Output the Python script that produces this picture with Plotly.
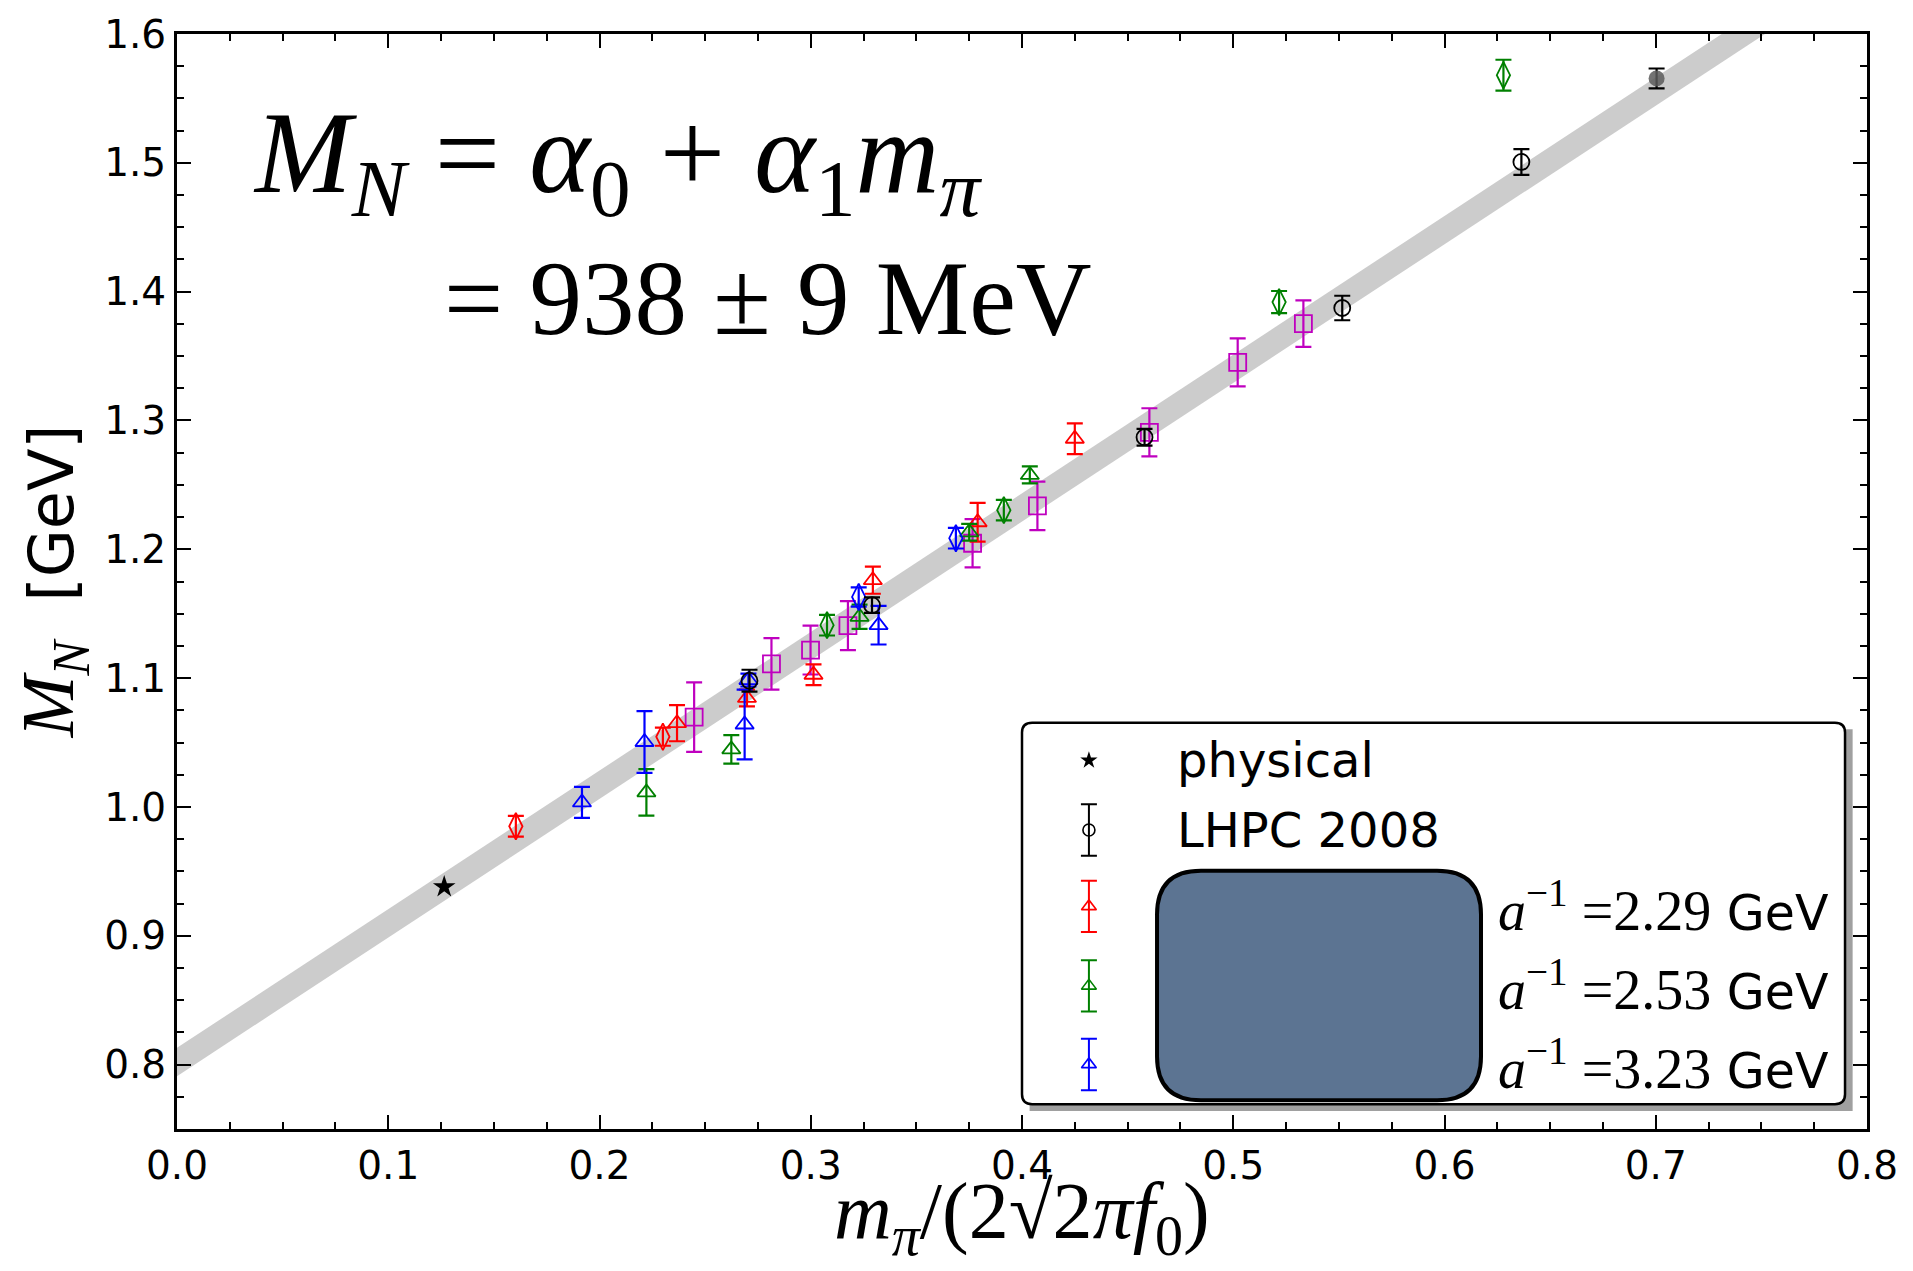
import plotly.graph_objects as go

# ---------------- data ----------------
phys_x = [0.1265]
phys_y = [0.938]

lhpc_x = [0.271, 0.329, 0.458, 0.5516, 0.6364, 0.7004]
lhpc_y = [1.098, 1.1566, 1.287, 1.3873, 1.5007, 1.5655]
lhpc_err = [0.0085, 0.006, 0.0065, 0.0095, 0.010, 0.0077]

red_tri_x = [0.2367, 0.2698, 0.3013, 0.3294, 0.379, 0.425]
red_tri_y = [1.065, 1.0846, 1.1026, 1.176, 1.221, 1.2858]
red_tri_err = [0.014, 0.0065, 0.008, 0.0105, 0.015, 0.012]

red_dia_x = [0.1604, 0.230]
red_dia_y = [0.985, 1.0545]
red_dia_err = [0.008, 0.007]

green_tri_x = [0.2222, 0.2624, 0.3231, 0.375, 0.4037]
green_tri_y = [1.0113, 1.0447, 1.1476, 1.2132, 1.2577]
green_tri_err = [0.018, 0.011, 0.0094, 0.0065, 0.0066]

green_dia_x = [0.3077, 0.3914, 0.5217, 0.6279]
green_dia_y = [1.1411, 1.2304, 1.3919, 1.568]
green_dia_err = [0.008, 0.008, 0.0086, 0.012]

blue_tri_x = [0.1917, 0.2213, 0.2687, 0.2705, 0.3321]
blue_tri_y = [1.0035, 1.0504, 1.064, 1.0985, 1.1411]
blue_tri_err = [0.012, 0.024, 0.027, 0.005, 0.015]

blue_dia_x = [0.3227, 0.3687]
blue_dia_y = [1.163, 1.2086]
blue_dia_err = [0.0075, 0.008]

mag_x = [0.2448, 0.2814, 0.2999, 0.3176, 0.3766, 0.4073, 0.4603, 0.5021, 0.5332]
mag_y = [1.0697, 1.111, 1.1218, 1.1407, 1.2047, 1.2337, 1.2908, 1.3451, 1.3752]
mag_err = [0.027, 0.020, 0.019, 0.019, 0.0187, 0.0188, 0.0187, 0.0187, 0.018]

# fit band  M_N = a0 + a1 * x
band_x = [0.0, 0.8]
band_lo = [0.791, 1.652]
band_hi = [0.813, 1.674]

# tick values
x_ticks = [0.0, 0.1, 0.2, 0.3, 0.4, 0.5, 0.6, 0.7, 0.8]
y_ticks = [0.8, 0.9, 1.0, 1.1, 1.2, 1.3, 1.4, 1.5, 1.6]

legend_labels = ["physical", "LHPC 2008", "2.29", "2.53", "3.23"]

# ---------------- styles ----------------
RED = "#ff0000"
GREEN = "#008000"
BLUE = "#0000ff"
MAG = "#bf00bf"
SERIF = "Liberation Serif"
SANS = "DejaVu Sans"

fig = go.Figure()

fig.add_trace(go.Scatter(x=band_x, y=band_lo, mode="lines",
                         line=dict(width=0, color="#cccccc"),
                         hoverinfo="skip", showlegend=False))
fig.add_trace(go.Scatter(x=band_x, y=band_hi, mode="lines",
                         line=dict(width=0, color="#cccccc"),
                         fill="tonexty", fillcolor="#cccccc",
                         hoverinfo="skip", showlegend=False))


def eb(x, y, err, color, symbol, size, xa="x", ya="y"):
    return go.Scatter(
        x=x, y=y, mode="markers", xaxis=xa, yaxis=ya,
        marker=dict(symbol=symbol, size=size, color=color,
                    line=dict(width=1.8, color=color)),
        error_y=dict(type="data", array=err, visible=True, color=color,
                     thickness=2.2, width=8),
        showlegend=False, cliponaxis=False)


fig.add_trace(eb(mag_x, mag_y, mag_err, MAG, "square-open", 17))
fig.add_trace(eb(red_dia_x, red_dia_y, red_dia_err, RED, "diamond-tall-open", 19))
fig.add_trace(eb(red_tri_x, red_tri_y, red_tri_err, RED, "triangle-up-open", 16))
fig.add_trace(eb(green_tri_x, green_tri_y, green_tri_err, GREEN, "triangle-up-open", 16))
fig.add_trace(eb(green_dia_x, green_dia_y, green_dia_err, GREEN, "diamond-tall-open", 19))
fig.add_trace(eb(blue_tri_x, blue_tri_y, blue_tri_err, BLUE, "triangle-up-open", 16))
fig.add_trace(eb(blue_dia_x, blue_dia_y, blue_dia_err, BLUE, "diamond-tall-open", 19))

n_l = len(lhpc_x)
fig.add_trace(go.Scatter(
    x=lhpc_x, y=lhpc_y, mode="markers",
    marker=dict(symbol=["circle-open"] * (n_l - 1) + ["circle"], size=16,
                color=["black"] * (n_l - 1) + ["rgba(90,90,90,0.85)"],
                line=dict(width=[1.8] * (n_l - 1) + [0], color="black")),
    error_y=dict(type="data", array=lhpc_err, visible=True, color="black",
                 thickness=2.2, width=8),
    showlegend=False))

fig.add_trace(go.Scatter(x=phys_x, y=phys_y, mode="markers",
                         marker=dict(symbol="star", size=17, color="black"),
                         showlegend=False))

# ---------------- custom legend (overlay axes in plot-fraction units) ----------------
lx = 0.5396
ly = [0.3367, 0.2731, 0.2033, 0.1307, 0.059]
lerr = 0.0235
fig.add_trace(go.Scatter(x=[lx], y=[ly[0]], mode="markers", xaxis="x2", yaxis="y2",
                         marker=dict(symbol="star", size=13, color="black"),
                         showlegend=False))
leg_items = [("black", "circle-open", 12), (RED, "triangle-up-open", 13),
             (GREEN, "triangle-up-open", 13), (BLUE, "triangle-up-open", 13)]
for (c, s, sz), yy in zip(leg_items, ly[1:]):
    fig.add_trace(go.Scatter(
        x=[lx], y=[yy], mode="markers", xaxis="x2", yaxis="y2",
        marker=dict(symbol=s, size=sz, color=c, line=dict(width=1.6, color=c)),
        error_y=dict(type="data", array=[lerr], visible=True, color=c,
                     thickness=2, width=8),
        showlegend=False))

shapes = []
# legend shadow
shapes.append(dict(type="rect", xref="paper", yref="paper", layer="below",
                   x0=0.5045, x1=0.9915, y0=0.0165, y1=0.365,
                   fillcolor="#a0a0a0", line=dict(width=0)))
# legend frame (rounded)
fx0, fx1, fy0, fy1 = 0.5, 0.987, 0.0227, 0.371
rx, ry = 0.006, 0.009
frame_path = (f"M {fx0+rx},{fy0} L {fx1-rx},{fy0} Q {fx1},{fy0} {fx1},{fy0+ry} "
              f"L {fx1},{fy1-ry} Q {fx1},{fy1} {fx1-rx},{fy1} "
              f"L {fx0+rx},{fy1} Q {fx0},{fy1} {fx0},{fy1-ry} "
              f"L {fx0},{fy0+ry} Q {fx0},{fy0} {fx0+rx},{fy0} Z")
shapes.append(dict(type="path", xref="paper", yref="paper", layer="below",
                   path=frame_path, fillcolor="white",
                   line=dict(color="black", width=2.5)))
# blue rounded box inside legend
bx0, bx1, by0, by1 = 0.5799, 0.7716, 0.0263, 0.2359
brx, bry = 0.026, 0.04
box_path = (f"M {bx0+brx},{by0} L {bx1-brx},{by0} Q {bx1},{by0} {bx1},{by0+bry} "
            f"L {bx1},{by1-bry} Q {bx1},{by1} {bx1-brx},{by1} "
            f"L {bx0+brx},{by1} Q {bx0},{by1} {bx0},{by1-bry} "
            f"L {bx0},{by0+bry} Q {bx0},{by0} {bx0+brx},{by0} Z")
shapes.append(dict(type="path", xref="paper", yref="paper", layer="above",
                   path=box_path, fillcolor="#5c7492",
                   line=dict(color="black", width=4)))

annotations = []
annotations.append(dict(xref="paper", yref="paper", x=0.5905, y=ly[0],
                        text=legend_labels[0], showarrow=False, xanchor="left",
                        yanchor="middle", font=dict(family=SANS, size=48, color="black")))
annotations.append(dict(xref="paper", yref="paper", x=0.5905, y=ly[1],
                        text=legend_labels[1], showarrow=False, xanchor="left",
                        yanchor="middle", font=dict(family=SANS, size=48, color="black")))
for lab, yy in zip(legend_labels[2:], ly[2:]):
    annotations.append(dict(
        xref="paper", yref="paper", x=0.7805, y=yy, showarrow=False,
        xanchor="left", yanchor="middle",
        text=(f"<span style='font-family:{SERIF};font-size:56px'><i>a</i>"
              f"<sup>−1</sup> ={lab}</span> GeV"),
        font=dict(family=SANS, size=49, color="black")))

# big formula
annotations.append(dict(
    xref="paper", yref="paper", x=0.044, y=0.884, xanchor="left", yanchor="middle",
    showarrow=False,
    text=("<i>M</i><sub><i>N</i></sub> = <i>α</i><sub>0</sub> + "
          "<i>α</i><sub>1</sub><i>m</i><sub><i>π</i></sub>"),
    font=dict(family=SERIF, size=116, color="black")))
annotations.append(dict(
    xref="paper", yref="paper", x=0.157, y=0.758, xanchor="left", yanchor="middle",
    showarrow=False, text="= 938 ± 9 MeV",
    font=dict(family=SERIF, size=105, color="black")))

# axis titles
annotations.append(dict(
    xref="paper", yref="paper", x=-0.073, y=0.5, xanchor="center", yanchor="middle",
    showarrow=False, textangle=-90,
    text=(f"<span style='font-family:{SERIF};font-size:74px'><i>M</i><sub><i>N</i></sub></span>"
          "  [GeV]"),
    font=dict(family=SANS, size=62, color="black")))
annotations.append(dict(
    xref="paper", yref="paper", x=0.5, y=-0.08, xanchor="center", yanchor="middle",
    showarrow=False,
    text="<i>m</i><sub><i>π</i></sub>/(2√2<i>πf</i><sub>0</sub>)",
    font=dict(family=SERIF, size=80, color="black")))

axis_common = dict(
    ticks="inside", ticklen=14, tickwidth=2, tickcolor="black",
    showline=True, linewidth=3, linecolor="black", mirror="allticks",
    showgrid=False, zeroline=False, tickformat=".1f",
    tickfont=dict(family=SANS, size=39, color="black"),
    minor=dict(ticks="inside", dtick=0.025, ticklen=7, tickwidth=1.5,
               tickcolor="black", showgrid=False),
)

fig.update_layout(
    width=1913, height=1271,
    margin=dict(l=177, r=46, t=25, b=142),
    paper_bgcolor="white", plot_bgcolor="white",
    showlegend=False,
    xaxis=dict(range=[0, 0.8], tickmode="array", tickvals=x_ticks, **axis_common),
    yaxis=dict(range=[0.75, 1.6], tickmode="array", tickvals=y_ticks, **axis_common),
    xaxis2=dict(overlaying="x", anchor="y2", range=[0, 1], visible=False),
    yaxis2=dict(overlaying="y", anchor="x2", range=[0, 1], visible=False),
    shapes=shapes,
    annotations=annotations,
)

fig.write_html("out.html")
